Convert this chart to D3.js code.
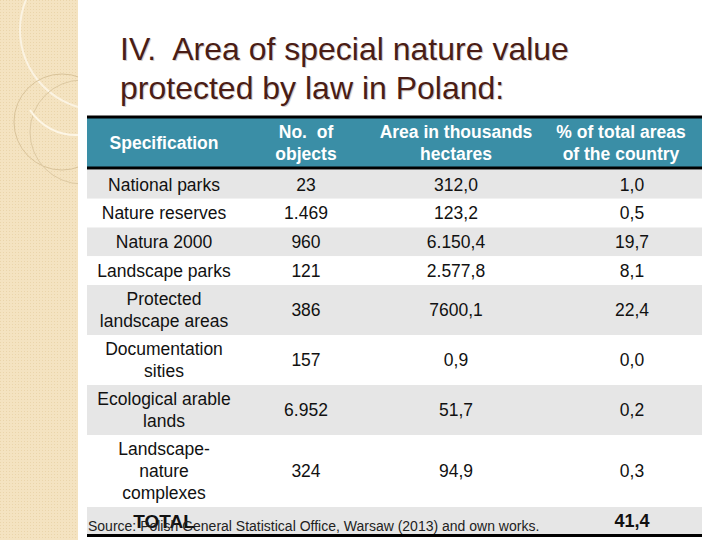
<!DOCTYPE html>
<html>
<head>
<meta charset="utf-8">
<script src="https://cdn.jsdelivr.net/npm/d3@7"></script>
<style>
  body { margin: 0; background: #fff; }
  svg { display: block; font-family: Arial, "Liberation Sans", sans-serif; }
  svg text { white-space: pre; }
</style>
</head>
<body>
<div id="chart"></div>
<script>
// Table contents
const headers = ["Specification", "No.  of\nobjects", "Area in thousands\nhectares", "% of total areas\nof the country"];
const categories = [
  "National parks", "Nature reserves", "Natura 2000", "Landscape parks",
  "Protected\nlandscape areas", "Documentation\nsities", "Ecological arable\nlands",
  "Landscape-\nnature\ncomplexes"
];
const objects = ["23", "1.469", "960", "121", "386", "157", "6.952", "324"];
const areas = ["312,0", "123,2", "6.150,4", "2.577,8", "7600,1", "0,9", "51,7", "94,9"];
const shares = ["1,0", "0,5", "19,7", "8,1", "22,4", "0,0", "0,2", "0,3"];
const totalLabel = "TOTAL";
const totalShare = "41,4";
const title = ["IV.  Area of special nature value", "protected by law in Poland:"];
const source = "Source: Polish General Statistical Office, Warsaw (2013) and own works.";

const width = 720, height = 540;

const svg = d3.select("#chart").append("svg")
  .attr("width", width)
  .attr("height", height);

// beige side strip with faint circle ornaments
const defs = svg.append("defs");
const pat = defs.append("pattern").attr("id", "dots")
  .attr("width", 3).attr("height", 3).attr("patternUnits", "userSpaceOnUse");
pat.append("rect").attr("width", 3).attr("height", 3).attr("fill", "#f4e3c1");
pat.append("rect").attr("width", 1).attr("height", 1).attr("fill", "#ead5ab");
defs.append("clipPath").attr("id", "strip")
  .append("rect").attr("width", 78).attr("height", height);

svg.append("rect").attr("width", 78).attr("height", height).attr("fill", "url(#dots)");
const orn = svg.append("g").attr("clip-path", "url(#strip)").attr("fill", "none");
orn.append("circle").attr("cx", 100).attr("cy", 30).attr("r", 80)
  .attr("stroke", "#fbf3e2").attr("stroke-width", 2);
orn.append("circle").attr("cx", 62).attr("cy", 122).attr("r", 48)
  .attr("stroke", "#d9c39a").attr("stroke-width", 1);
orn.append("circle").attr("cx", 82).attr("cy", 132).attr("r", 52)
  .attr("stroke", "#ddc9a2").attr("stroke-width", 1);
orn.append("path").attr("d", "M30,110 A55,55 0 0 0 78,135")
  .attr("stroke", "#fdf6e6").attr("stroke-width", 2);

// title
const titleG = svg.append("g");
title.forEach((t, i) => {
  titleG.append("text").attr("x", 121).attr("y", 61 + i * 39)
    .attr("fill", "#d8d0cc").attr("font-size", 32).text(t);
  titleG.append("text").attr("x", 120).attr("y", 60 + i * 39)
    .attr("fill", "#4a1d16").attr("font-size", 32).text(t);
});

// columns
const colEdges = [87, 241, 371, 541, 702];
const x = d3.scaleOrdinal().domain(d3.range(4)).range([164, 306, 456, 621]);
const valueShift = [0, 0, 0, 11];
const tableLeft = colEdges[0], tableRight = colEdges[4];
const fs = 17.5;

// rows
const lineH = 22;
const rowH = n => [0, 28.75, 50, 72][n];
const rows = categories.map((c, i) => ({
  lines: c.split("\n"),
  cells: [c, objects[i], areas[i], shares[i]]
}));
let yy = 170;
rows.forEach(r => { r.y0 = yy; r.h = rowH(r.lines.length); yy += r.h; });
const totalY0 = yy, totalH = 534 - yy;

// header band
svg.append("rect").attr("x", tableLeft).attr("y", 118)
  .attr("width", tableRight - tableLeft).attr("height", 49).attr("fill", "#3a8ea6");
svg.append("line").attr("x1", tableLeft).attr("x2", tableRight)
  .attr("y1", 117).attr("y2", 117).attr("stroke", "#000").attr("stroke-width", 3);
svg.append("line").attr("x1", tableLeft).attr("x2", tableRight)
  .attr("y1", 168).attr("y2", 168).attr("stroke", "#000").attr("stroke-width", 3);

headers.forEach((h, j) => {
  const ls = h.split("\n");
  const cy = 142.5 - (ls.length - 1) * lineH / 2;
  ls.forEach((l, k) => {
    svg.append("text").attr("x", x(j)).attr("y", cy + k * lineH)
      .attr("dy", "0.35em").attr("text-anchor", "middle")
      .attr("fill", "#fff").attr("font-weight", "bold").attr("font-size", fs)
      .text(l);
  });
});

// body rows
const rowG = svg.selectAll("g.row").data(rows).join("g").attr("class", "row");
rowG.append("rect")
  .attr("x", tableLeft).attr("y", d => d.y0)
  .attr("width", tableRight - tableLeft).attr("height", d => d.h)
  .attr("fill", (d, i) => i % 2 === 0 ? "#e6e6e6" : "#fff");

rowG.each(function(d) {
  const g = d3.select(this);
  const mid = d.y0 + d.h / 2;
  d.lines.forEach((l, k) => {
    g.append("text").attr("x", x(0))
      .attr("y", mid + (k - (d.lines.length - 1) / 2) * lineH)
      .attr("dy", "0.35em").attr("text-anchor", "middle")
      .attr("fill", "#111").attr("font-size", fs).text(l);
  });
  d.cells.slice(1).forEach((v, j) => {
    g.append("text").attr("x", x(j + 1) + valueShift[j + 1]).attr("y", mid)
      .attr("dy", "0.35em").attr("text-anchor", "middle")
      .attr("fill", "#111").attr("font-size", fs).text(v);
  });
});

// total row
svg.append("rect").attr("x", tableLeft).attr("y", totalY0)
  .attr("width", tableRight - tableLeft).attr("height", totalH).attr("fill", "#e6e6e6");
svg.append("text").attr("x", x(0)).attr("y", 528)
  .attr("text-anchor", "middle").attr("font-weight", "bold").attr("font-size", 19)
  .attr("fill", "#111").text(totalLabel);
svg.append("text").attr("x", x(3) + valueShift[3]).attr("y", 527)
  .attr("text-anchor", "middle").attr("font-weight", "bold").attr("font-size", 18)
  .attr("fill", "#111").text(totalShare);
svg.append("text").attr("x", 88).attr("y", 531)
  .attr("font-size", 14).attr("fill", "#222").text(source);
svg.append("line").attr("x1", tableLeft).attr("x2", tableRight)
  .attr("y1", 535.5).attr("y2", 535.5).attr("stroke", "#000").attr("stroke-width", 3);
</script>
</body>
</html>
